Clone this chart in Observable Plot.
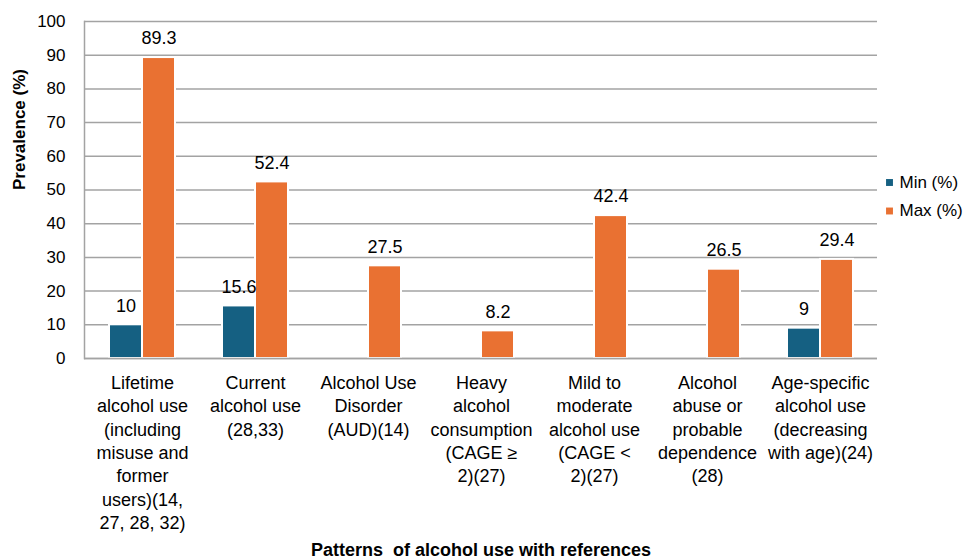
<!DOCTYPE html>
<html>
<head>
<meta charset="utf-8">
<script src="https://cdn.jsdelivr.net/npm/d3@7"></script>
<script src="https://cdn.jsdelivr.net/npm/@observablehq/plot@0.6"></script>
<style>
  html, body { margin: 0; padding: 0; background: #fff; }
  #chart { width: 963px; height: 560px; overflow: hidden; }
  #chart text { white-space: pre; }
</style>
</head>
<body>
<div id="chart"></div>
<script>
// Patterns of alcohol use: min and max reported prevalence
const categories = [
  "Lifetime alcohol use",
  "Current alcohol use",
  "Alcohol Use Disorder",
  "Heavy alcohol consumption",
  "Mild to moderate alcohol use",
  "Alcohol abuse or probable dependence",
  "Age-specific alcohol use"
];
const categoryLabels = [
  "Lifetime\nalcohol use\n(including\nmisuse and\nformer\nusers)(14,\n27, 28, 32)",
  "Current\nalcohol use\n(28,33)",
  "Alcohol Use\nDisorder\n(AUD)(14)",
  "Heavy\nalcohol\nconsumption\n(CAGE ≥\n2)(27)",
  "Mild to\nmoderate\nalcohol use\n(CAGE <\n2)(27)",
  "Alcohol\nabuse or\nprobable\ndependence\n(28)",
  "Age-specific\nalcohol use\n(decreasing\nwith age)(24)"
];
const seriesNames = ["Min (%)", "Max (%)"];
const minValues = [10, 15.6, null, null, null, null, 9];
const maxValues = [89.3, 52.4, 27.5, 8.2, 42.4, 26.5, 29.4];
const yTicks = [0, 10, 20, 30, 40, 50, 60, 70, 80, 90, 100];
const seriesColors = ["#156082", "#E97132"];
const yTitle = "Prevalence (%)";
const xTitle = "Patterns  of alcohol use with references";

const minRows = categories
  .map((c, i) => ({category: c, series: seriesNames[0], value: minValues[i]}))
  .filter(d => d.value != null);
const maxRows = categories
  .map((c, i) => ({category: c, series: seriesNames[1], value: maxValues[i]}))
  .filter(d => d.value != null);

const grid = "#a3a3a3";
const half = 33; // each bar takes half of the group band

const chart = Plot.plot({
  width: 963,
  height: 560,
  marginLeft: 84,
  marginRight: 86,
  marginTop: 21,
  marginBottom: 202,
  style: {fontFamily: "'Liberation Sans', Arial, sans-serif", fontSize: "18px", color: "#000", background: "#fff"},
  x: {domain: categories, axis: null, paddingInner: 0.417, paddingOuter: 0.2085},
  y: {domain: [0, 100], axis: null},
  color: {domain: seriesNames, range: seriesColors},
  marks: [
    Plot.ruleY(yTicks, {stroke: grid, strokeWidth: 1.5}),
    Plot.barY(minRows, {x: "category", y: "value", fill: "series", insetRight: half, stroke: "#fff", strokeWidth: 2}),
    Plot.barY(maxRows, {x: "category", y: "value", fill: "series", insetLeft: half, stroke: "#fff", strokeWidth: 2}),
    Plot.ruleY([0], {stroke: grid, strokeWidth: 1.5}),
    Plot.frame({anchor: "left", stroke: grid, strokeWidth: 1.5}),
    Plot.axisY({ticks: yTicks, tickSize: 0, tickPadding: 19, label: null, fontSize: 17}),
    // value labels above bars
    Plot.text(minRows, {x: "category", y: "value", text: d => String(d.value), dx: -half / 2, dy: -19, fill: "#000"}),
    Plot.text(maxRows, {x: "category", y: "value", text: d => String(d.value), dx: half / 2, dy: -19, fill: "#000"}),
    // wrapped category labels
    Plot.text(categories, {x: d => d, text: (d, i) => categoryLabels[i], frameAnchor: "bottom", lineAnchor: "top", dy: 14, lineHeight: 1.296, fill: "#000"}),
    // axis titles
    Plot.text([yTitle], {frameAnchor: "left", dx: -65, rotate: -90, fontWeight: "bold", fontSize: 17, fill: "#000"}),
    Plot.text([xTitle], {frameAnchor: "bottom", dy: 197, fontWeight: "bold", fill: "#000"}),
    // legend
    Plot.dot([seriesNames[0]], {frameAnchor: "right", dx: 12, dy: -7.5, symbol: "square", r: 3.9, fill: d => d}),
    Plot.dot([seriesNames[1]], {frameAnchor: "right", dx: 12, dy: 21, symbol: "square", r: 3.9, fill: d => d}),
    Plot.text([seriesNames[0]], {frameAnchor: "right", dx: 22, dy: -7.5, textAnchor: "start", fontSize: 17, fill: "#000"}),
    Plot.text([seriesNames[1]], {frameAnchor: "right", dx: 22, dy: 21, textAnchor: "start", fontSize: 17, fill: "#000"})
  ]
});
chart.style.overflow = "visible";
document.getElementById("chart").append(chart);
</script>
</body>
</html>
